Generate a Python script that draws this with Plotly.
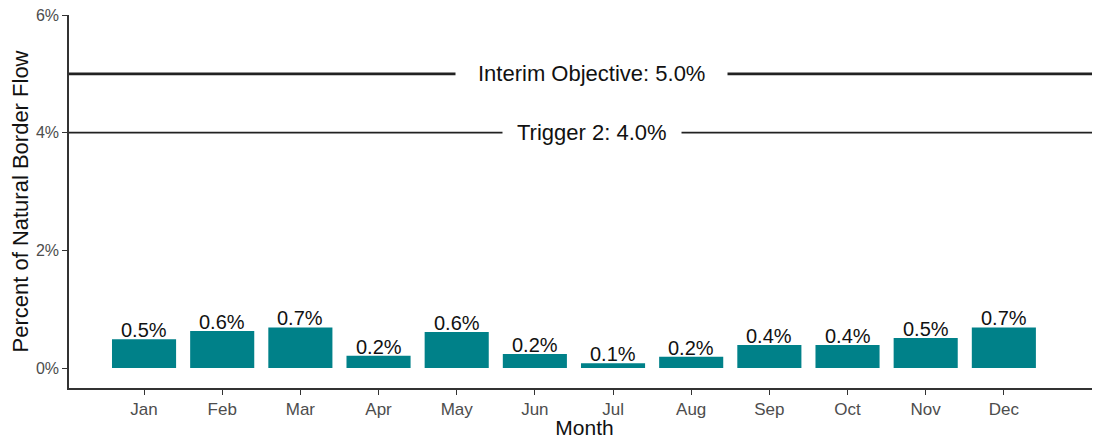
import plotly.graph_objects as go

# monthly values (percent of natural border flow)
months = ["Jan", "Feb", "Mar", "Apr", "May", "Jun",
          "Jul", "Aug", "Sep", "Oct", "Nov", "Dec"]
pct = [0.49, 0.63, 0.69, 0.21, 0.61, 0.24, 0.08, 0.19, 0.39, 0.39, 0.51, 0.69]

# reference levels
ref_names = ["Interim Objective", "Trigger 2"]
ref_values = [5.0, 4.0]
ref_widths = [2.6, 1.9]
ref_pads = [22, 14]

labels = ["%.1f%%" % v for v in pct]
FONT = "Liberation Sans, Arial"

fig = go.Figure()
fig.add_trace(go.Bar(
    x=months, y=pct, width=0.82,
    marker=dict(color="#008189", line=dict(width=0)),
))

# value labels sitting right on top of the bars
for m, v, lab in zip(months, pct, labels):
    fig.add_annotation(x=m, y=v, text=lab, showarrow=False, yanchor="bottom", yshift=-4,
                       font=dict(family=FONT, size=20, color="#111111"))

for name, val, w, pad in zip(ref_names, ref_values, ref_widths, ref_pads):
    fig.add_shape(type="line", xref="paper", yref="y", x0=0, x1=1, y0=val, y1=val,
                  line=dict(color="#222222", width=w), layer="below")
    fig.add_annotation(x=5.73, y=val, xref="x", yref="y",
                       text="%s: %.1f%%" % (name, val), showarrow=False,
                       bgcolor="white", borderpad=pad,
                       font=dict(family=FONT, size=22, color="#111111"))

# page body adds an 8px margin, so the figure is sized to fit inside it
fig.update_layout(
    width=1092, height=431,
    margin=dict(l=61, r=0, t=7, b=51),
    plot_bgcolor="white", paper_bgcolor="white",
    showlegend=False,
    font=dict(family=FONT, color="#111111"),
)
fig.update_xaxes(
    range=[-0.96, 12.23], showline=True, linecolor="#333333", linewidth=1.5,
    ticks="outside", ticklen=5, tickcolor="#333333", automargin=False,
    tickfont=dict(size=17, color="#4d4d4d"),
    title=dict(text="Month", font=dict(size=21, color="#111111"), standoff=2),
    showgrid=False, zeroline=False,
)
fig.update_yaxes(
    range=[-0.34, 6.0], tickvals=[0, 2, 4, 6], ticktext=["0%", "2%", "4%", "6%"],
    showline=True, linecolor="#333333", linewidth=1.5,
    ticks="outside", ticklen=5, tickcolor="#333333", automargin=False,
    ticklabeloverflow="allow",
    tickfont=dict(size=16, color="#4d4d4d"),
    title=dict(text="Percent of Natural Border Flow", font=dict(size=22, color="#111111"), standoff=4),
    showgrid=False, zeroline=False,
)

fig.write_html("out.html")
